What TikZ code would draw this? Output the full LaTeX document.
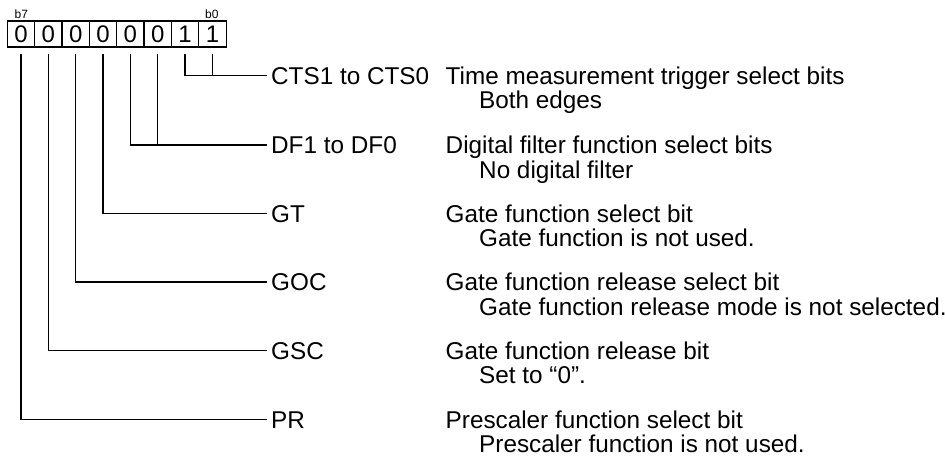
\documentclass[tikz,border=0pt]{standalone}
\usepackage{fontspec}
\setmainfont{Liberation Sans}
\usepackage{tikz}

\tikzset{
    bitcell/.style={draw, line width=1.2pt, minimum width=27.35pt, minimum height=26pt, inner sep=0pt, font=\fontsize{24}{24}\selectfont},
    bitno/.style={anchor=base west, inner sep=0pt, font=\fontsize{12}{12}\selectfont},
    fieldtxt/.style={anchor=west, inner ysep=0pt, text height=17.4pt, text depth=0pt, font=\fontsize{24.3}{24.5}\selectfont},
    fieldlbl/.style={fieldtxt, inner xsep=4pt},
    fielddsc/.style={fieldtxt, inner xsep=0pt},
    wire/.style={line width=1.2pt}
}

\begin{document}
\begin{tikzpicture}[x=1pt, y=-1pt]
    \useasboundingbox (0,0) rectangle (945,462);

    % Register bits
    \foreach \i/\v in {7/0, 6/0, 5/0, 4/0, 3/0, 2/0, 1/1, 0/1} {
        \node[bitcell] (c\i) at ({20.98+27.35*(7-\i)},34) {\v};
    }
    \node[bitno] (b7) at (14.5,19) {b7};
    \node[bitno] (b0) at (205,19) {b0};

    % Fields
    \foreach \nm/\b/\y/\lbl/\dsc/\val in {
        cts/1/75.7/CTS1 to CTS0/Time measurement trigger select bits/Both edges,
        df/3/145/DF1 to DF0/Digital filter function select bits/No digital filter,
        gt/4/213.7/GT/Gate function select bit/Gate function is not used.,
        goc/5/282/GOC/Gate function release select bit/Gate function release mode is not selected.,
        gsc/6/350.7/GSC/Gate function release bit/Set to “0”.,
        pr/7/419.3/PR/Prescaler function select bit/Prescaler function is not used.} {
        \node[fieldlbl] (\nm) at (267,\y) {\lbl};
        \node[fielddsc] (\nm d) at (445.5,\y) {\dsc};
        \node[fielddsc] (\nm v) at ({479},{\y+24.5}) {\val};
        \draw[wire] ([yshift=-6pt]c\b.south) |- (\nm.west);
    }

    % Second bit of the two-bit fields
    \draw[wire] ([yshift=-6pt]c0.south) -- (c0.south |- cts.west);
    \draw[wire] ([yshift=-6pt]c2.south) -- (c2.south |- df.west);
\end{tikzpicture}
\end{document}
